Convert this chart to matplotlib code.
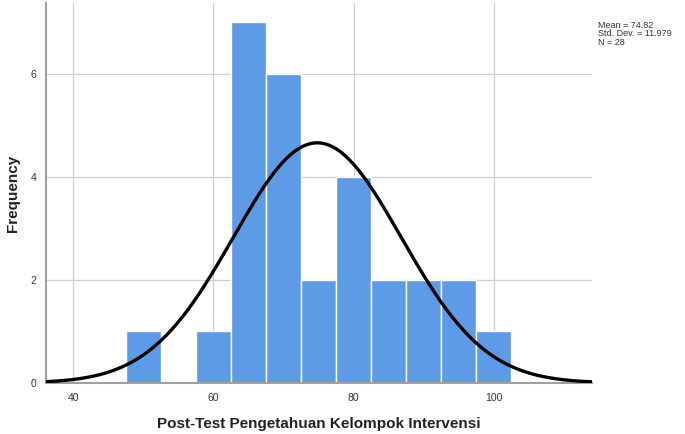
import numpy as np
import matplotlib.pyplot as plt

plt.rcParams['font.family'] = ['Liberation Sans', 'DejaVu Sans']

# histogram bins (centres, width 5) and counts
bin_centers = [50, 55, 60, 65, 70, 75, 80, 85, 90, 95, 100]
counts = [1, 0, 1, 7, 6, 2, 4, 2, 2, 2, 1]
bin_width = 5

mean = 74.82
std = 11.979
n = 28

fig = plt.figure(figsize=(6.85, 4.34), dpi=100)
ax = fig.add_axes([0.067, 0.1175, 0.797, 0.876])

ax.bar(bin_centers, counts, width=bin_width, color='#5e9be6',
       edgecolor='white', linewidth=1.0, zorder=2)

# normal curve scaled to counts
xs = np.linspace(36, 114, 400)
ys = n * bin_width * np.exp(-0.5 * ((xs - mean) / std) ** 2) / (std * np.sqrt(2 * np.pi))
ax.plot(xs, ys, color='black', linewidth=2.4, zorder=3)

ax.set_xlim(36.1, 114)
ax.set_ylim(0, 7.38)
ax.set_xticks([40, 60, 80, 100])
ax.set_yticks([0, 2, 4, 6])
ax.grid(True, color='#cfcfcf', linewidth=0.9, zorder=0)
ax.set_axisbelow(True)
ax.tick_params(length=0, labelsize=7.5, colors='#333333', pad=7)

for side in ['top', 'right']:
    ax.spines[side].set_visible(False)
ax.spines['left'].set_color('#a0a0a0')
ax.spines['bottom'].set_color('#a0a0a0')
ax.spines['left'].set_linewidth(1.5)
ax.spines['bottom'].set_linewidth(1.5)

ax.set_xlabel('Post-Test Pengetahuan Kelompok Intervensi', fontsize=11,
              fontweight='bold', color='#222222')
ax.xaxis.set_label_coords(0.5, -0.09)
ax.set_ylabel('Frequency', fontsize=11, fontweight='bold', color='#222222')
ax.yaxis.set_label_coords(-0.048, 0.5)

fig.text(0.873, 0.952, 'Mean = %.2f\nStd. Dev. = %.3f\nN = %d' % (mean, std, n),
         fontsize=6.5, color='#333333', va='top', ha='left', linespacing=0.95)

fig.savefig('out.png', dpi=100)
